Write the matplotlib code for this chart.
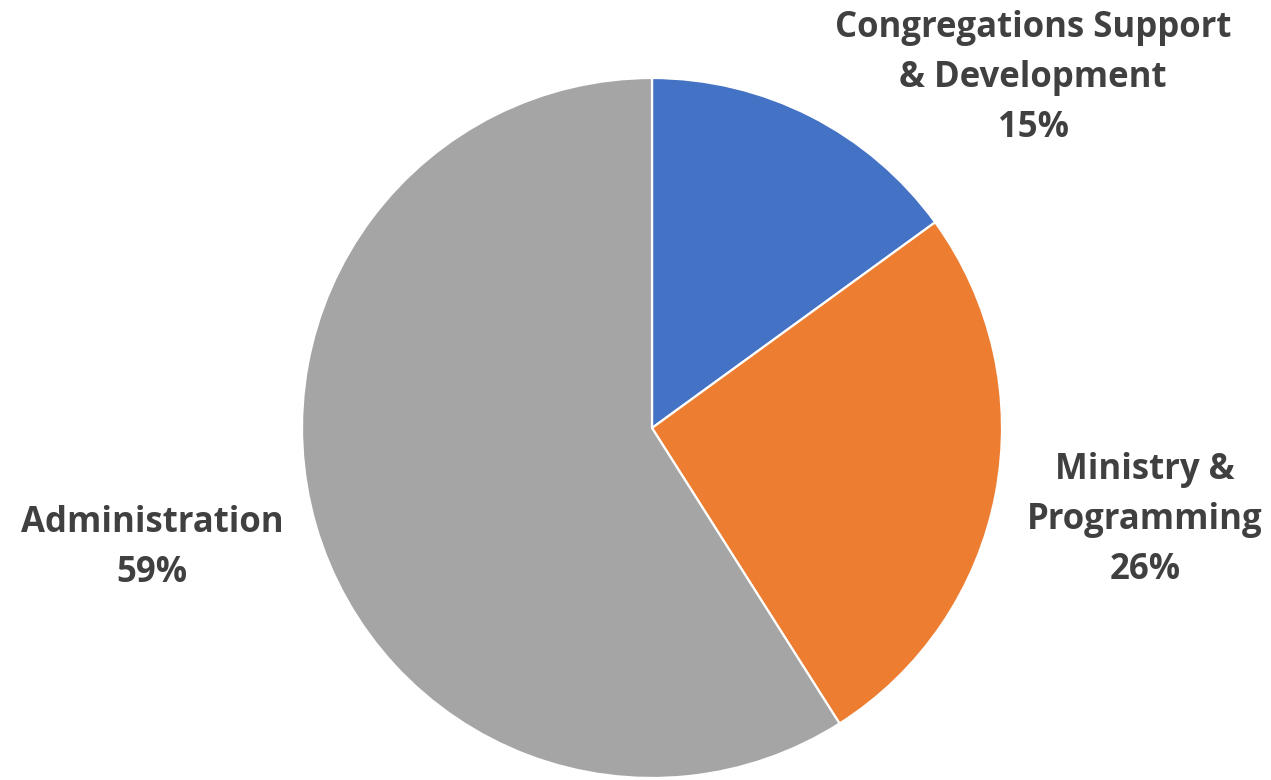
"""
Pie: budget share by area (Congregations / Ministry / Administration).
"""
import matplotlib.pyplot as plt

labels = ["Congregations Support\n& Development", "Ministry &\nProgramming", "Administration"]
shares = [15, 26, 59]
colors = ["#4472C4", "#ED7D31", "#A5A5A5"]

# label anchor points in data units (radius = 1), placed like Excel's best fit
label_pos = [(1.089, 1.0), (1.409, -0.263), (-1.429, -0.343)]

TEXT = "#404040"
W, H, R_PX = 1271, 780, 350
CX, CY = 652, 428

fig = plt.figure(figsize=(W / 100, H / 100), dpi=100)
ax = fig.add_axes([0, 0, 1, 1])
ax.pie(shares, colors=colors, startangle=90, counterclock=False,
       wedgeprops=dict(edgecolor="white", linewidth=1.6))

for lab, val, (x, y) in zip(labels, shares, label_pos):
    ax.text(x, y, f"{lab}\n{val}%", ha="center", va="center",
            fontsize=25, fontweight="bold", color=TEXT, family="Open Sans",
            linespacing=1.53)

ax.set_xlim(-CX / R_PX, (W - CX) / R_PX)
ax.set_ylim(-(H - CY) / R_PX, CY / R_PX)
ax.set_aspect("auto")
ax.axis("off")

fig.savefig("out.png", dpi=100, facecolor="white")
